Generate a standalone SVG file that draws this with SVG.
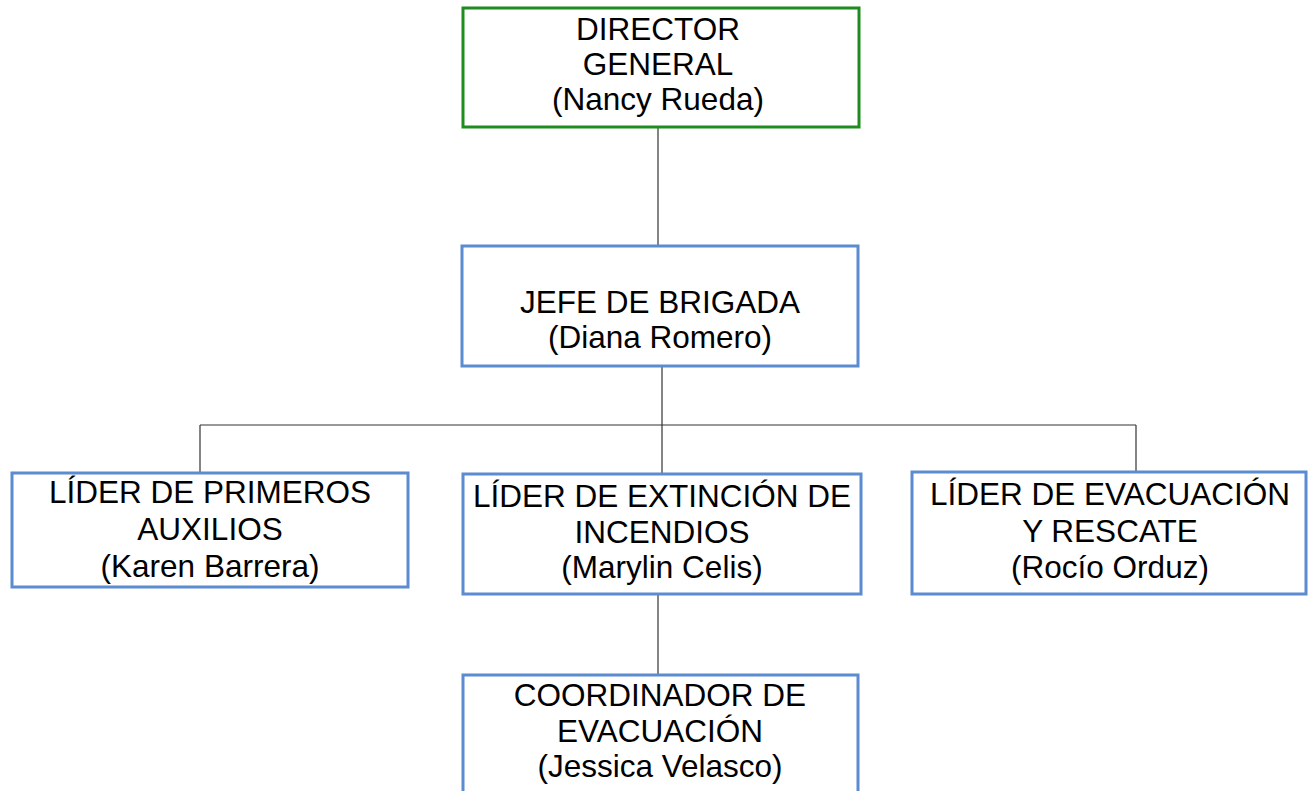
<svg xmlns="http://www.w3.org/2000/svg" width="1308" height="791" viewBox="0 0 1308 791">
<style>
.box{fill:#ffffff;stroke:#5b8bd0;stroke-width:3}
.green{fill:#ffffff;stroke:#1e8c1e;stroke-width:3}
.t{font-family:"Liberation Sans",Arial,sans-serif;font-size:31.5px;fill:#000;text-anchor:middle}
.c{stroke:#333;stroke-width:1.2;fill:none}
</style>
<rect width="1308" height="791" fill="#ffffff"/>
<g id="connectors">
<path class="c" d="M658 127 V246"/>
<path class="c" d="M662 366 V425"/>
<path class="c" d="M200 425 H1136"/>
<path class="c" d="M200 425 V472"/>
<path class="c" d="M662 425 V473"/>
<path class="c" d="M1136 425 V471"/>
<path class="c" d="M658 594 V675"/>
</g>
<g id="director">
<rect class="green" x="463" y="8" width="396" height="119"/>
<text class="t" x="658" y="40">DIRECTOR</text>
<text class="t" x="658" y="75">GENERAL</text>
<text class="t" x="658" y="110">(Nancy Rueda)</text>
</g>
<g id="jefe">
<rect class="box" x="462" y="246" width="396" height="120"/>
<text class="t" x="660" y="313">JEFE DE BRIGADA</text>
<text class="t" x="660" y="348">(Diana Romero)</text>
</g>
<g id="primeros">
<rect class="box" x="12" y="473" width="396" height="114"/>
<text class="t" x="210" y="503">LÍDER DE PRIMEROS</text>
<text class="t" x="210" y="540">AUXILIOS</text>
<text class="t" x="210" y="577">(Karen Barrera)</text>
</g>
<g id="extincion">
<rect class="box" x="463" y="474" width="398" height="120"/>
<text class="t" x="662" y="507">LÍDER DE EXTINCIÓN DE</text>
<text class="t" x="662" y="543">INCENDIOS</text>
<text class="t" x="662" y="578">(Marylin Celis)</text>
</g>
<g id="evacuacion">
<rect class="box" x="912" y="472" width="394" height="122"/>
<text class="t" x="1110" y="505">LÍDER DE EVACUACIÓN</text>
<text class="t" x="1110" y="542">Y RESCATE</text>
<text class="t" x="1110" y="578">(Rocío Orduz)</text>
</g>
<g id="coordinador">
<rect class="box" x="463" y="675" width="395" height="130"/>
<text class="t" x="660" y="706">COORDINADOR DE</text>
<text class="t" x="660" y="742">EVACUACIÓN</text>
<text class="t" x="660" y="777">(Jessica Velasco)</text>
</g>
</svg>
